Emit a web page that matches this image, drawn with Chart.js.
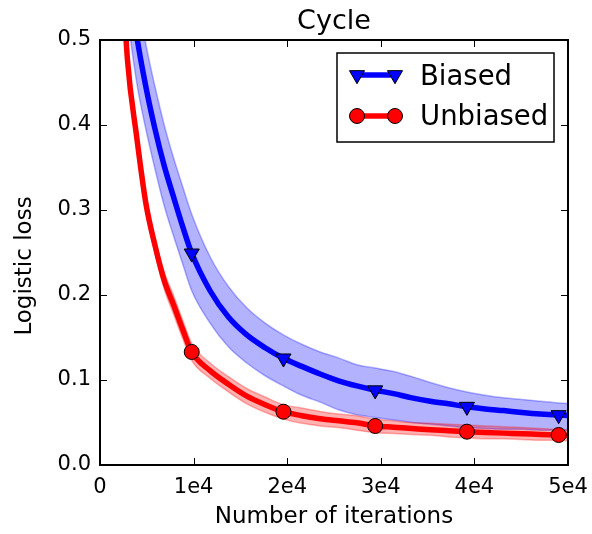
<!DOCTYPE html>
<html>
<head>
<meta charset="utf-8">
<script src="https://cdn.jsdelivr.net/npm/chart.js@4.4.0/dist/chart.umd.min.js"></script>
<style>
  html, body { margin: 0; padding: 0; background: #fff; }
  #chart { display: block; }
</style>
</head>
<body>
<canvas id="chart" width="592" height="534"></canvas>
<script>
// iterations where the loss was recorded
const iters = [1960, 2940, 3920, 4900, 5880, 6860, 7840, 8820, 9800, 11760, 13720, 15680, 17640, 19600,
  21560, 23520, 25480, 27440, 29400, 31360, 33320, 35280, 37240, 39200, 41160, 43120, 45080, 47040, 49000, 50960];
const markerIters = [9800, 19600, 29400, 39200, 49000];

const biasedMean = [0.70, 0.585, 0.505, 0.445, 0.395, 0.352, 0.316, 0.281, 0.249, 0.205, 0.174, 0.153, 0.138, 0.1255,
  0.116, 0.107, 0.099, 0.093, 0.088, 0.084, 0.079, 0.075, 0.072, 0.0686, 0.066, 0.064, 0.0618, 0.060, 0.0588, 0.058];
const biasedHigh = [0.76, 0.645, 0.56, 0.495, 0.445, 0.40, 0.362, 0.328, 0.295, 0.245, 0.21, 0.185, 0.167, 0.153,
  0.142, 0.133, 0.126, 0.118, 0.114, 0.11, 0.104, 0.097, 0.091, 0.086, 0.082, 0.079, 0.077, 0.075, 0.073, 0.072];
const biasedLow = [0.64, 0.53, 0.45, 0.395, 0.348, 0.305, 0.27, 0.237, 0.205, 0.167, 0.139, 0.12, 0.105, 0.093,
  0.082, 0.074, 0.065, 0.059, 0.056, 0.053, 0.050, 0.048, 0.046, 0.044, 0.043, 0.042, 0.042, 0.041, 0.041, 0.041];

const unbiasedMean = [0.66, 0.476, 0.386, 0.308, 0.258, 0.217, 0.189, 0.16, 0.133, 0.111, 0.095, 0.081, 0.071, 0.0627,
  0.058, 0.0545, 0.052, 0.0496, 0.0459, 0.0445, 0.043, 0.0415, 0.0403, 0.0392, 0.0383, 0.0375, 0.0368, 0.036, 0.0353, 0.0347];
const unbiasedHigh = [0.666, 0.482, 0.392, 0.315, 0.266, 0.227, 0.2, 0.171, 0.143, 0.12, 0.104, 0.09, 0.080, 0.071,
  0.067, 0.063, 0.060, 0.058, 0.054, 0.052, 0.050, 0.049, 0.048, 0.047, 0.046, 0.045, 0.044, 0.043, 0.042, 0.041];
const unbiasedLow = [0.654, 0.47, 0.38, 0.301, 0.25, 0.207, 0.178, 0.149, 0.123, 0.102, 0.086, 0.072, 0.062, 0.054,
  0.049, 0.046, 0.044, 0.041, 0.038, 0.037, 0.036, 0.035, 0.033, 0.032, 0.031, 0.031, 0.030, 0.029, 0.029, 0.028];

const xTickLabels = ['0', '1e4', '2e4', '3e4', '4e4', '5e4'];
const yTickLabels = ['0.0', '0.1', '0.2', '0.3', '0.4', '0.5'];

const FONT = "'DejaVu Sans', sans-serif";

const pts = arr => arr.map((v, i) => ({ x: iters[i], y: v }));
const markerSize = r => ctx => markerIters.includes(iters[ctx.dataIndex]) ? r : 0;

// ticks pointing inwards on every side, the frame, titles and the legend
const decorations = {
  id: 'decorations',
  afterDraw(chart) {
    const { ctx, chartArea: a, scales } = chart;
    ctx.save();
    ctx.strokeStyle = '#000';
    ctx.lineWidth = 1;
    const tl = 7;
    scales.x.ticks.forEach(t => {
      const px = Math.round(scales.x.getPixelForValue(t.value)) + 0.5;
      ctx.beginPath();
      ctx.moveTo(px, a.bottom); ctx.lineTo(px, a.bottom - tl);
      ctx.moveTo(px, a.top); ctx.lineTo(px, a.top + tl);
      ctx.stroke();
    });
    scales.y.ticks.forEach(t => {
      const py = Math.round(scales.y.getPixelForValue(t.value)) + 0.5;
      ctx.beginPath();
      ctx.moveTo(a.left, py); ctx.lineTo(a.left + tl, py);
      ctx.moveTo(a.right, py); ctx.lineTo(a.right - tl, py);
      ctx.stroke();
    });
    ctx.lineWidth = 2;
    ctx.strokeRect(a.left, a.top, a.right - a.left, a.bottom - a.top);

    ctx.fillStyle = '#000';
    ctx.textAlign = 'center';
    ctx.textBaseline = 'alphabetic';
    const cx = (a.left + a.right) / 2;
    ctx.font = '27px ' + FONT;
    ctx.fillText('Cycle', cx, 29);
    ctx.font = '23px ' + FONT;
    ctx.fillText('Number of iterations', cx, 523);
    ctx.save();
    ctx.translate(31, 266);
    ctx.rotate(-Math.PI / 2);
    ctx.fillText('Logistic loss', 0, 0);
    ctx.restore();

    // legend
    const box = { x: 337, y: 53, w: 217, h: 89 };
    ctx.fillStyle = '#fff';
    ctx.fillRect(box.x, box.y, box.w, box.h);
    ctx.lineWidth = 1.5;
    ctx.strokeStyle = '#000';
    ctx.strokeRect(box.x, box.y, box.w, box.h);
    const rows = [
      { label: 'Biased', color: '#0000ff', style: 'triangle', rot: 180, r: 8.7, y: 75, base: 85 },
      { label: 'Unbiased', color: '#ff0000', style: 'circle', rot: 0, r: 7.5, y: 116, base: 125 }
    ];
    rows.forEach(row => {
      ctx.strokeStyle = row.color;
      ctx.lineWidth = 5.5;
      ctx.beginPath();
      ctx.moveTo(357, row.y); ctx.lineTo(395, row.y);
      ctx.stroke();
      [357, 395].forEach(mx => {
        ctx.fillStyle = row.color;
        ctx.strokeStyle = '#000';
        ctx.lineWidth = 1;
        Chart.helpers.drawPoint(ctx, { pointStyle: row.style, rotation: row.rot, radius: row.r, borderWidth: 1 }, mx, row.y);
      });
      ctx.fillStyle = '#000';
      ctx.textAlign = 'left';
      ctx.font = '27.5px ' + FONT;
      ctx.fillText(row.label, 420, row.base);
    });
    ctx.restore();
  }
};

const band = (data, color, fill) => ({
  data: pts(data),
  borderColor: color,
  backgroundColor: color,
  borderWidth: 1.5,
  pointRadius: 0,
  fill: fill,
  clip: 0
});

const chartCanvas = document.querySelector('#chart');
new Chart(chartCanvas.getContext('2d'), {
  type: 'line',
  data: {
    datasets: [
      {
        label: 'Unbiased',
        data: pts(unbiasedMean),
        borderColor: '#ff0000',
        backgroundColor: '#ff0000',
        borderWidth: 5.5,
        pointStyle: 'circle',
        pointRadius: markerSize(7.5),
        pointBorderColor: '#000',
        pointBorderWidth: 1,
        fill: false,
        clip: 0
      },
      {
        label: 'Biased',
        data: pts(biasedMean),
        borderColor: '#0000ff',
        backgroundColor: '#0000ff',
        borderWidth: 5.5,
        pointStyle: 'triangle',
        rotation: 180,
        pointRadius: markerSize(8.7),
        pointBorderColor: '#000',
        pointBorderWidth: 1,
        fill: false,
        clip: 0
      },
      band(unbiasedHigh, 'rgba(255,0,0,0.3)', '+1'),
      band(unbiasedLow, 'rgba(255,0,0,0.3)', false),
      band(biasedHigh, 'rgba(0,0,255,0.3)', '+1'),
      band(biasedLow, 'rgba(0,0,255,0.3)', false)
    ]
  },
  options: {
    responsive: false,
    animation: false,
    events: [],
    layout: { padding: { top: 40, right: 24, left: 0, bottom: 0 } },
    elements: { line: { cubicInterpolationMode: 'monotone' } },
    plugins: {
      legend: { display: false },
      title: { display: false },
      tooltip: { enabled: false }
    },
    scales: {
      x: {
        type: 'linear',
        min: 0,
        max: 50000,
        afterFit: s => { s.height = 69; s.paddingLeft = 0; s.paddingRight = 0; },
        afterBuildTicks: s => { s.ticks = xTickLabels.map((_, i) => ({ value: i * 10000 })); },
        grid: { display: false, drawTicks: false },
        border: { display: false },
        ticks: {
          maxRotation: 0,
          autoSkip: false,
          padding: 10,
          color: '#000',
          font: { family: FONT, size: 21 },
          callback: (v, i) => xTickLabels[i]
        }
      },
      y: {
        min: 0,
        max: 0.5,
        afterFit: s => { s.width = 100; s.paddingTop = 0; s.paddingBottom = 0; },
        afterBuildTicks: s => { s.ticks = yTickLabels.map((_, i) => ({ value: i * 0.1 })); },
        grid: { display: false, drawTicks: false },
        border: { display: false },
        ticks: {
          autoSkip: false,
          padding: 9,
          color: '#000',
          font: { family: FONT, size: 21 },
          callback: (v, i) => yTickLabels[i]
        }
      }
    }
  },
  plugins: [decorations]
});
</script>
</body>
</html>
